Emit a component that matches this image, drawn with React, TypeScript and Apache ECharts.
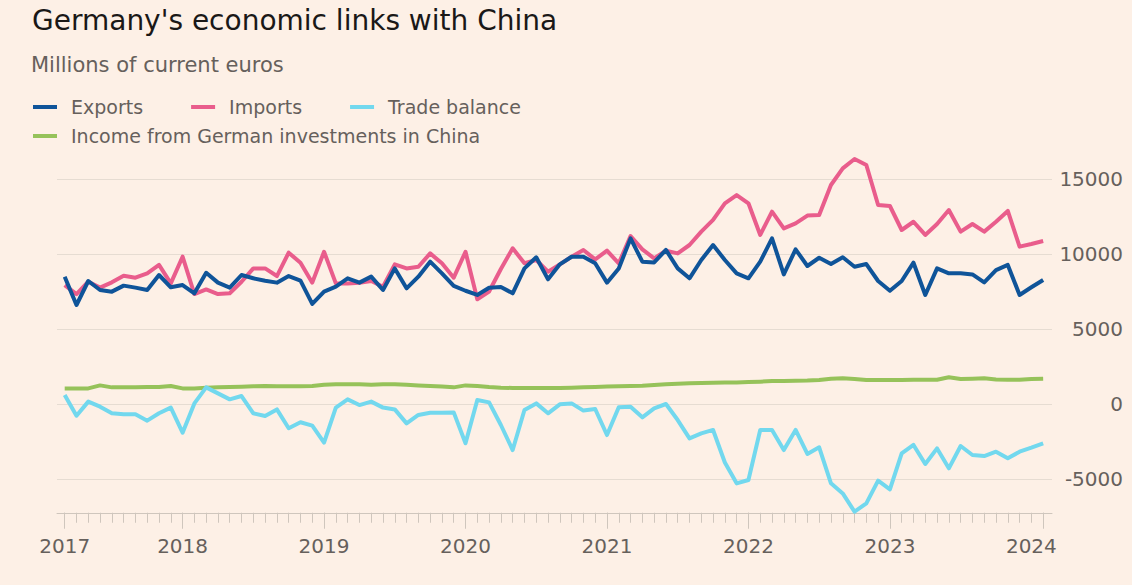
import React, { useEffect, useRef } from "react";
import * as echarts from "echarts";

const months = [
  "2017-03", "2017-04", "2017-05", "2017-06", "2017-07", "2017-08", "2017-09", "2017-10", "2017-11", "2017-12",
  "2018-01", "2018-02", "2018-03", "2018-04", "2018-05", "2018-06", "2018-07", "2018-08", "2018-09", "2018-10", "2018-11", "2018-12",
  "2019-01", "2019-02", "2019-03", "2019-04", "2019-05", "2019-06", "2019-07", "2019-08", "2019-09", "2019-10", "2019-11", "2019-12",
  "2020-01", "2020-02", "2020-03", "2020-04", "2020-05", "2020-06", "2020-07", "2020-08", "2020-09", "2020-10", "2020-11", "2020-12",
  "2021-01", "2021-02", "2021-03", "2021-04", "2021-05", "2021-06", "2021-07", "2021-08", "2021-09", "2021-10", "2021-11", "2021-12",
  "2022-01", "2022-02", "2022-03", "2022-04", "2022-05", "2022-06", "2022-07", "2022-08", "2022-09", "2022-10", "2022-11", "2022-12",
  "2023-01", "2023-02", "2023-03", "2023-04", "2023-05", "2023-06", "2023-07", "2023-08", "2023-09", "2023-10", "2023-11", "2023-12",
  "2024-01", "2024-02",
];

// indices into months
const yearTickIndices = [0, 10, 22, 34, 46, 58, 70, 83];
const yearLabelIndices = [0, 10, 22, 34, 46, 58, 70, 82];
const yTickValues = [-5000, 0, 5000, 10000, 15000];

const exportsData = [
  8490, 6600, 8200, 7600, 7490, 7890, 7760, 7600, 8600, 7780,
  7930, 7380, 8750, 8090, 7760, 8600, 8380, 8220, 8090, 8530,
  8220, 6670, 7490, 7820, 8380, 8090, 8490, 7600, 9040, 7710,
  8490, 9490, 8710, 7870, 7550, 7270, 7750, 7800, 7380, 9040,
  9780, 8310, 9310, 9820, 9820, 9380, 8090, 9040, 11040, 9490,
  9440, 10270, 9040, 8380, 9600, 10600, 9600, 8710, 8380, 9490,
  11040, 8640, 10310, 9200, 9750, 9330, 9780, 9150, 9330, 8200,
  7550, 8200, 9420, 7270, 9040, 8710, 8710, 8640, 8110, 8930,
  9270, 7270, 7780, 8270,
];

const importsData = [
  7930, 7330, 8150, 7760, 8110, 8550, 8420, 8710, 9270, 8040,
  9820, 7330, 7640, 7330, 7380, 8150, 9040, 9040, 8530, 10090,
  9420, 8090, 10150, 8040, 8040, 8090, 8200, 7820, 9310, 9040,
  9150, 10040, 9380, 8420, 10150, 6980, 7500, 9000, 10380, 9380,
  9600, 8820, 9310, 9820, 10270, 9640, 10220, 9380, 11200, 10310,
  9710, 10220, 10040, 10600, 11490, 12270, 13380, 13930, 13380, 11270,
  12820, 11710, 12040, 12560, 12600, 14600, 15710, 16330, 15930, 13270,
  13200, 11600, 12150, 11270, 12000, 12930, 11490, 12000, 11490, 12150,
  12870, 10490, 10670, 10870,
];

const tradeBalanceData = [
  600, -780, 160, -180, -620, -690, -690, -1110, -620, -240,
  -1910, 40, 1110, 710, 310, 530, -620, -800, -360, -1620,
  -1220, -1440, -2580, -240, 310, -70, 160, -240, -360, -1290,
  -730, -580, -580, -560, -2620, 270, 110, -1400, -3070, -400,
  40, -620, -20, 40, -440, -330, -2070, -220, -180, -890,
  -290, 0, -1070, -2290, -1960, -1730, -3900, -5290, -5070, -1730,
  -1730, -3070, -1730, -3330, -2890, -5290, -5960, -7180, -6620, -5110,
  -5690, -3290, -2730, -4000, -2960, -4290, -2800, -3400, -3470, -3180,
  -3620, -3180, -2910, -2620,
];

const incomeData = [
  1040, 1040, 1040, 1240, 1110, 1110, 1110, 1130, 1130, 1200,
  1040, 1040, 1090, 1110, 1130, 1150, 1180, 1200, 1180, 1180,
  1180, 1200, 1290, 1310, 1310, 1310, 1290, 1310, 1310, 1290,
  1240, 1200, 1160, 1110, 1240, 1200, 1130, 1090, 1070, 1070,
  1070, 1070, 1070, 1090, 1110, 1130, 1160, 1180, 1200, 1220,
  1270, 1310, 1350, 1380, 1400, 1420, 1440, 1440, 1460, 1490,
  1530, 1540, 1550, 1560, 1600, 1690, 1710, 1670, 1600, 1600,
  1600, 1600, 1610, 1610, 1620, 1780, 1670, 1690, 1710, 1640,
  1620, 1620, 1670, 1690,
];

const FONT = "DejaVu Sans";
const GREY = "#66605c";
const BG = "#fdf0e6";

const toPoints = (arr: number[]) => arr.map((v, i) => [i, v]);

export default function App() {
  const ref = useRef<HTMLDivElement>(null);

  useEffect(() => {
    document.body.style.margin = "0";
    const chart = echarts.init(ref.current!, null, { renderer: "svg" });
    const xMin = -0.653;
    const xMax = 83.75;
    const legendText = {
      fontSize: 19,
      fontFamily: FONT,
      color: GREY,
      padding: [0, 0, 0, 9],
      lineHeight: 20,
    };
    const line = (name: string, data: number[], color: string) => ({
      name,
      type: "line",
      data: toPoints(data),
      showSymbol: false,
      symbol: "none",
      lineStyle: { color, width: 4, join: "round" },
      itemStyle: { color },
    });
    chart.setOption({
      animation: false,
      backgroundColor: BG,
      title: [
        {
          text: "Germany's economic links with China",
          left: 32,
          top: 4,
          padding: 0,
          textStyle: { fontSize: 28, fontWeight: "normal", fontFamily: FONT, color: "#1a1817", lineHeight: 32 },
        },
        {
          text: "Millions of current euros",
          left: 31,
          top: 53,
          padding: 0,
          textStyle: { fontSize: 21, fontWeight: "normal", fontFamily: FONT, color: GREY, lineHeight: 24 },
        },
      ],
      legend: [
        {
          data: ["Exports", "Imports", "Trade balance"],
          left: 33,
          top: 97,
          padding: 0,
          itemWidth: 24,
          itemHeight: 4,
          itemGap: 48,
          icon: "rect",
          selectedMode: false,
          textStyle: legendText,
        },
        {
          data: ["Income from German investments in China"],
          left: 33,
          top: 126,
          padding: 0,
          itemWidth: 24,
          itemHeight: 4,
          icon: "rect",
          selectedMode: false,
          textStyle: legendText,
        },
      ],
      grid: { left: 57, right: 80, top: 156.5, bottom: 72.25, containLabel: false },
      xAxis: [
        {
          type: "value",
          min: xMin,
          max: xMax,
          position: "bottom",
          axisLine: { show: true, onZero: false, lineStyle: { color: "#cfc6bd", width: 1 } },
          axisTick: {
            show: true,
            length: 10,
            customValues: months.map((_, i) => i),
            lineStyle: { color: "#cfc6bd", width: 1 },
          },
          axisLabel: { show: false },
          splitLine: { show: false },
        },
        {
          type: "value",
          min: xMin,
          max: xMax,
          position: "bottom",
          axisLine: { show: false, onZero: false },
          axisTick: {
            show: true,
            length: 16,
            customValues: yearTickIndices,
            lineStyle: { color: "#cfc6bd", width: 1 },
          },
          axisLabel: {
            show: true,
            customValues: yearLabelIndices,
            formatter: (v: number) => months[Math.round(v)].slice(0, 4),
            margin: 23,
            fontSize: 20,
            fontFamily: FONT,
            color: GREY,
          },
          splitLine: { show: false },
        },
      ],
      yAxis: {
        type: "value",
        position: "right",
        min: -7250,
        max: 16500,
        splitNumber: 5,
        axisLine: { show: false },
        axisTick: { show: false },
        axisLabel: {
          customValues: yTickValues,
          formatter: (v: number) => String(v),
          align: "right",
          margin: 71,
          fontSize: 20,
          fontFamily: FONT,
          color: GREY,
          padding: [4, 0, 0, 0],
        },
        splitLine: {
          show: true,
          showMinLine: false,
          showMaxLine: false,
          lineStyle: { color: "#e6dcd2", width: 1 },
        },
      },
      series: [
        line("Income from German investments in China", incomeData, "#96c25a"),
        line("Trade balance", tradeBalanceData, "#72d8ee"),
        line("Imports", importsData, "#e95d8c"),
        line("Exports", exportsData, "#0f5499"),
      ],
    });
    return () => chart.dispose();
  }, []);

  return <div ref={ref} style={{ width: 1132, height: 585, background: BG }} />;
}
